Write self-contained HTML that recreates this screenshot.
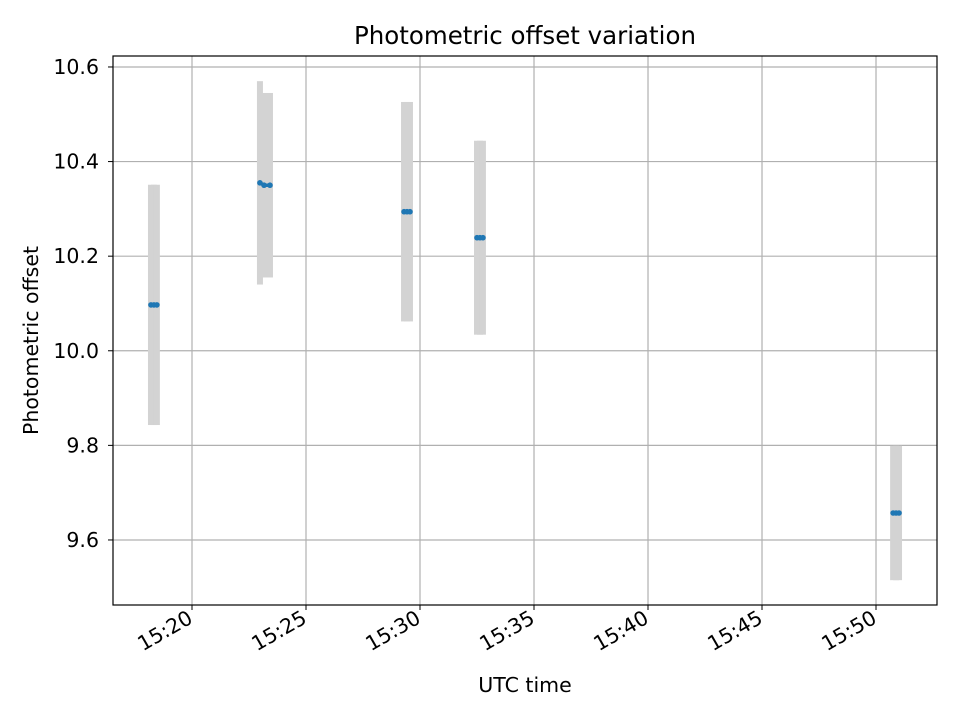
<!DOCTYPE html>
<html><head><meta charset="utf-8"><style>
body{margin:0;background:#fff;}
svg text{font-family:"DejaVu Sans","Liberation Sans",sans-serif;fill:#000;}
</style></head><body>
<svg id="chart" width="960" height="720" xmlns="http://www.w3.org/2000/svg">
<rect width="960" height="720" fill="#fff"/>
<g id="grid"></g><g id="bars"></g><g id="pts"></g><g id="axes"></g>
</svg>
<script>
// times in minutes after 15:00
const times = [18.20,18.33,18.46, 22.98,23.16,23.42, 29.30,29.43,29.56, 32.50,32.63,32.76, 50.75,50.88,51.01];
const offsets = [10.097,10.097,10.097, 10.355,10.350,10.350, 10.294,10.294,10.294, 10.239,10.239,10.239, 9.657,9.657,9.657];
const errors = [0.254,0.254,0.254, 0.215,0.195,0.195, 0.232,0.232,0.232, 0.205,0.205,0.205, 0.142,0.142,0.142];
const xTicks = [20,25,30,35,40,45,50];
const xTickLabels = ["15:20","15:25","15:30","15:35","15:40","15:45","15:50"];
const yTicks = [9.6,9.8,10.0,10.2,10.4,10.6];
const yTickLabels = ["9.6","9.8","10.0","10.2","10.4","10.6"];

const L=113,R=937,T=56,B=605;
const x0=16.535,x1=52.675,y0=9.4625,y1=10.6232;
const X=t=>L+(t-x0)/(x1-x0)*(R-L);
const Y=v=>B-(v-y0)/(y1-y0)*(B-T);
const NS="http://www.w3.org/2000/svg";
function mk(tag,attrs,parent){const e=document.createElementNS(NS,tag);for(const k in attrs)e.setAttribute(k,attrs[k]);document.getElementById(parent).appendChild(e);return e;}

xTicks.forEach((t,i)=>{
  const g=mk('line',{x1:X(t),x2:X(t),y1:T,y2:B,stroke:'#b0b0b0','stroke-width':1.2},'grid');
  
  
  const tk=mk('line',{x1:X(t),x2:X(t),y1:B,y2:B+5,stroke:'#000','stroke-width':1},'axes');
  
  
  const tx=mk('text',{x:X(t)+2,y:B+17,'font-size':20.5,'text-anchor':'end',transform:`rotate(-30 ${X(t)+2} ${B+17})`},'axes');
  tx.textContent=xTickLabels[i];
  
  
});
yTicks.forEach((v,i)=>{
  const g=mk('line',{x1:L,x2:R,y1:Y(v),y2:Y(v),stroke:'#b0b0b0','stroke-width':1.2},'grid');
  
  
  const tk=mk('line',{x1:L-5,x2:L,y1:Y(v),y2:Y(v),stroke:'#000','stroke-width':1},'axes');
  
  
  const tx=mk('text',{x:L-14,y:Y(v)+7,'font-size':20.5,'text-anchor':'end'},'axes');
  tx.textContent=yTickLabels[i];
  
  
});
times.forEach((t,i)=>{
  const r=mk('rect',{x:X(t)-3,width:6,y:Y(offsets[i]+errors[i]),height:Y(offsets[i]-errors[i])-Y(offsets[i]+errors[i]),fill:'#d3d3d3'},'bars');
  
  
});
let d='';
times.forEach((t,i)=>{d+=(i%3===0?'M':'L')+X(t)+' '+Y(offsets[i]);});
const pl=mk('path',{d:d,stroke:'#1f77b4','stroke-width':3.5,fill:'none'},'pts');


times.forEach((t,i)=>{
  const c=mk('circle',{cx:X(t),cy:Y(offsets[i]),r:2.8,fill:'#1f77b4'},'pts');
  
  
});
const fr=mk('rect',{x:L,y:T,width:R-L,height:B-T,fill:'none',stroke:'#000','stroke-width':1.2},'axes');


const ti=mk('text',{x:(L+R)/2,y:44,'font-size':24.5,'text-anchor':'middle'},'axes');
ti.textContent='Photometric offset variation';


const xl=mk('text',{x:(L+R)/2,y:692,'font-size':20.5,'text-anchor':'middle'},'axes');
xl.textContent='UTC time';


const yl=mk('text',{x:38,y:(T+B)/2+10,'font-size':20.5,'text-anchor':'middle',transform:`rotate(-90 38 ${(T+B)/2+10})`},'axes');
yl.textContent='Photometric offset';


</script>
</body></html>
